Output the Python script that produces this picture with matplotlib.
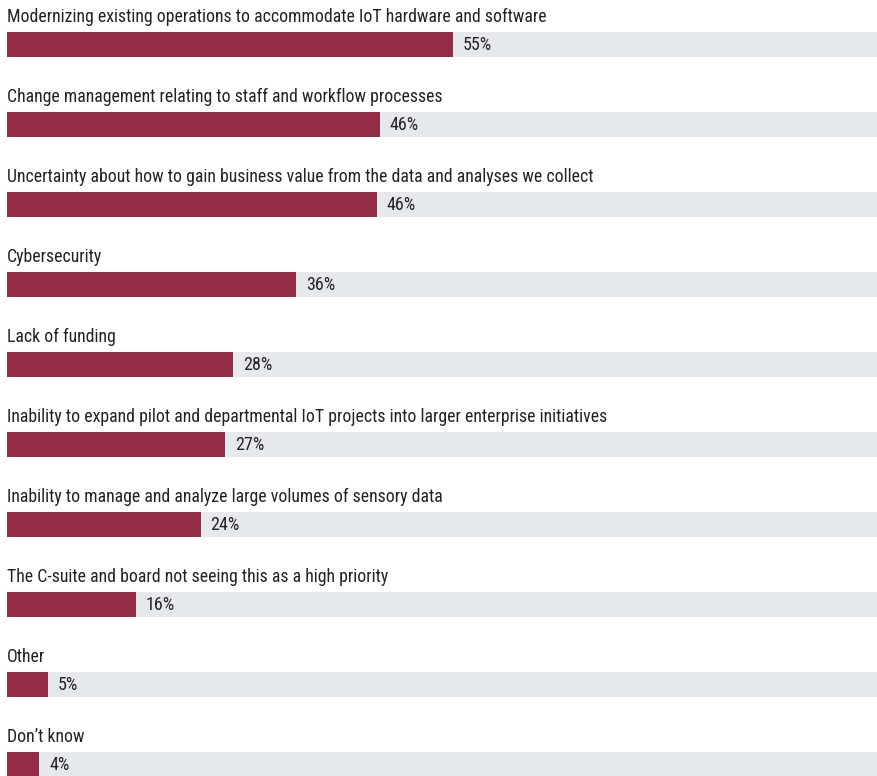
import matplotlib
matplotlib.use('Agg')
import matplotlib.pyplot as plt
from matplotlib import font_manager

# ── Data ─────────────────────────────────────────────────────────────────────
categories = [
    "Modernizing existing operations to accommodate IoT hardware and software",
    "Change management relating to staff and workflow processes",
    "Uncertainty about how to gain business value from the data and analyses we collect",
    "Cybersecurity",
    "Lack of funding",
    "Inability to expand pilot and departmental IoT projects into larger enterprise initiatives",
    "Inability to manage and analyze large volumes of sensory data",
    "The C-suite and board not seeing this as a high priority",
    "Other",
    "Don\u2019t know",
]
values = [55, 46, 45.6, 35.7, 27.9, 26.9, 23.9, 15.9, 5, 4]
value_labels = ["55%", "46%", "46%", "36%", "28%", "27%", "24%", "16%", "5%", "4%"]

# ── Style ────────────────────────────────────────────────────────────────────
RED = '#952C45'
GRAY = '#E6E9EC'
TEXT = '#222222'
XMAX = 107.3

names = {f.name for f in font_manager.fontManager.ttflist}
fams = [f for f in ['Roboto Condensed', 'Liberation Sans Narrow', 'DejaVu Sans Condensed']
        if f in names] + ['DejaVu Sans']
plt.rcParams['font.family'] = fams

fig = plt.figure(figsize=(8.77, 7.76), dpi=100)
ax = fig.add_axes([7 / 877, 0, 870 / 877, 1])

n = len(categories)
ypos = list(range(n))
ax.barh(ypos, [XMAX] * n, height=0.31, color=GRAY, zorder=1)
ax.barh(ypos, values, height=0.31, color=RED, zorder=2)

for i, (cat, v, lab) in enumerate(zip(categories, values, value_labels)):
    ax.text(0, i - 0.28, cat, ha='left', va='baseline', fontsize=12.8,
            color=TEXT)
    ax.text(v + 1.2, i + 0.005, lab, ha='left', va='center', fontsize=13,
            color=TEXT)

ax.set_xlim(0, XMAX)
ax.set_ylim((776 - 44.5) / 80, -44.5 / 80)
ax.axis('off')

plt.savefig('out.png', dpi=100, facecolor='white')
